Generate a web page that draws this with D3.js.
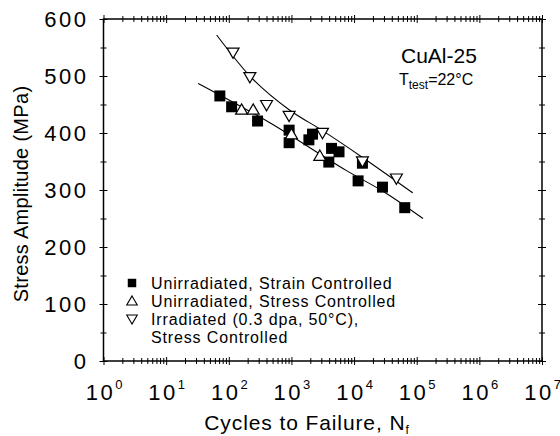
<!DOCTYPE html>
<html>
<head>
<meta charset="utf-8">
<script src="https://cdn.jsdelivr.net/npm/d3@7"></script>
<style>
  body { margin: 0; background: #fff; }
  text { font-family: "Liberation Sans", Arial, sans-serif; fill: #000; }
</style>
</head>
<body>
<svg width="560" height="436"></svg>
<script>
// Data
const strainN = [72, 111, 288, 919, 919, 1900, 2170, 3950, 4370, 5750, 11600, 13600, 28400, 64400];
const strainS = [465, 446, 421, 405, 383, 388, 398, 349, 373, 367, 316, 347, 305, 269];

const stressN = [160, 245, 1000, 2840];
const stressS = [439, 439, 396, 358];

const irradN = [117, 217, 401, 919, 3130, 13600, 47400];
const irradS = [543, 500, 451, 432, 402, 352, 322];

// fitted curves
const fitUnirrN = [32.5, 452, 7570, 32900, 126000];
const fitUnirrS = [487, 418, 334, 294, 250];
const fitIrrN = [64, 217, 942, 3050, 13300, 86300];
const fitIrrS = [572, 500, 440, 405, 358, 295];

const decades = [1, 10, 100, 1000, 1e4, 1e5, 1e6, 1e7];
const yMajor = [0, 100, 200, 300, 400, 500, 600];

const legendLabels = [
  ["Unirradiated, Strain Controlled"],
  ["Unirradiated, Stress Controlled"],
  ["Irradiated (0.3 dpa, 50°C),", "Stress Controlled"]
];

const width = 560, height = 436;
const svg = d3.select("svg");
svg.append("rect").attr("width", width).attr("height", height).attr("fill", "#fff");

const x = d3.scaleLog().domain([1, 1e7]).range([103.5, 542]);
const y = d3.scaleLinear().domain([0, 600]).range([361, 19]);

// minor ticks for the log axis: 2..9 in every decade
let xMinor = [];
decades.slice(0, -1).forEach(d => {
  for (let k = 2; k <= 9; k++) xMinor.push(d * k);
});
const yMinor = d3.range(50, 600, 100);

// helper to draw ticks on both sides of an axis line
function ticksBoth(axisFn, scale, values, size, tx, ty) {
  [size, -size].forEach(s => {
    const g = svg.append("g").attr("transform", `translate(${tx},${ty})`)
      .call(axisFn(scale).tickValues(values).tickSize(s).tickFormat(""));
    g.select(".domain").remove();
    g.selectAll("line").attr("stroke", "#000").attr("stroke-width", 1);
  });
}

ticksBoth(d3.axisBottom, x, decades, 4, 0, 361);
ticksBoth(d3.axisBottom, x, xMinor, 3, 0, 361);
ticksBoth(d3.axisTop, x, decades, 4, 0, 19);
ticksBoth(d3.axisTop, x, xMinor, 3, 0, 19);
ticksBoth(d3.axisLeft, y, yMajor, 4, 103.5, 0);
ticksBoth(d3.axisLeft, y, yMinor, 3, 103.5, 0);
ticksBoth(d3.axisRight, y, yMajor, 4, 542, 0);
ticksBoth(d3.axisRight, y, yMinor, 3, 542, 0);

// frame
svg.append("rect")
  .attr("x", 103.5).attr("y", 19)
  .attr("width", 542 - 103.5).attr("height", 361 - 19)
  .attr("fill", "none").attr("stroke", "#000").attr("stroke-width", 1.5);

// y tick labels
const yLab = svg.append("g").attr("transform", "translate(103.5,0)")
  .call(d3.axisLeft(y).tickValues(yMajor).tickSize(0).tickPadding(15));
yLab.select(".domain").remove();
yLab.selectAll("text")
  .style("font-family", "'Liberation Sans', Arial, sans-serif")
  .attr("font-size", 22).attr("letter-spacing", 2.5).attr("fill", "#000");

// x tick labels as 10^n
const xLab = svg.append("g").attr("transform", "translate(0,361)")
  .call(d3.axisBottom(x).tickValues(decades).tickSize(0).tickPadding(0));
xLab.select(".domain").remove();
xLab.selectAll("text")
  .attr("y", 39).attr("dy", null)
  .style("font-family", "'Liberation Sans', Arial, sans-serif")
  .attr("font-size", 22).attr("fill", "#000")
  .each(function(d) {
    const t = d3.select(this).text("");
    t.append("tspan").attr("letter-spacing", 2.5).text("10");
    t.append("tspan").attr("dy", -11).attr("font-size", 13).text(Math.round(Math.log10(d)));
  });

// axis titles
svg.append("text")
  .attr("transform", "translate(28,194) rotate(-90)")
  .attr("text-anchor", "middle").attr("font-size", 20).attr("letter-spacing", 0.3)
  .text("Stress Amplitude (MPa)");

const xt = svg.append("text")
  .attr("x", 307).attr("y", 430)
  .attr("text-anchor", "middle").attr("font-size", 21).attr("letter-spacing", 0.9);
xt.append("tspan").text("Cycles to Failure, N");
xt.append("tspan").attr("font-size", 12).attr("dy", 4).text("f");

// fit curves
const line = d3.line().x(d => x(d[0])).y(d => y(d[1])).curve(d3.curveMonotoneX);
[[fitUnirrN, fitUnirrS], [fitIrrN, fitIrrS]].forEach(([ns, ss]) => {
  svg.append("path")
    .datum(ns.map((n, i) => [n, ss[i]]))
    .attr("d", line)
    .attr("fill", "none").attr("stroke", "#000").attr("stroke-width", 1.1);
});

// markers
const square = d3.symbol().type(d3.symbolSquare).size(121);
const tri = d3.symbol().type(d3.symbolTriangle).size(62);

svg.append("g").selectAll("path")
  .data(strainN.map((n, i) => [n, strainS[i]]))
  .join("path")
  .attr("d", square)
  .attr("transform", d => `translate(${x(d[0])},${y(d[1])})`)
  .attr("fill", "#000");

svg.append("g").selectAll("path")
  .data(stressN.map((n, i) => [n, stressS[i]]))
  .join("path")
  .attr("d", tri)
  .attr("transform", d => `translate(${x(d[0])},${y(d[1])})`)
  .attr("fill", "#fff").attr("stroke", "#000").attr("stroke-width", 1.2);

svg.append("g").selectAll("path")
  .data(irradN.map((n, i) => [n, irradS[i]]))
  .join("path")
  .attr("d", tri)
  .attr("transform", d => `translate(${x(d[0])},${y(d[1])}) rotate(180)`)
  .attr("fill", "#fff").attr("stroke", "#000").attr("stroke-width", 1.2);

// legend
const legY = [283, 301, 319];
const lg = svg.append("g");
lg.append("path").attr("d", d3.symbol().type(d3.symbolSquare).size(72))
  .attr("transform", `translate(132,${legY[0]})`).attr("fill", "#000");
lg.append("path").attr("d", d3.symbol().type(d3.symbolTriangle).size(48))
  .attr("transform", `translate(132,${legY[1] + 1})`)
  .attr("fill", "#fff").attr("stroke", "#000").attr("stroke-width", 1.1);
lg.append("path").attr("d", d3.symbol().type(d3.symbolTriangle).size(48))
  .attr("transform", `translate(132,${legY[2] - 1}) rotate(180)`)
  .attr("fill", "#fff").attr("stroke", "#000").attr("stroke-width", 1.1);
legendLabels.forEach((lines, i) => {
  lines.forEach((s, j) => {
    lg.append("text")
      .attr("x", 151).attr("y", legY[i] + 18 * j)
      .attr("dy", "0.36em").attr("font-size", 16).attr("letter-spacing", 0.85)
      .text(s);
  });
});

// annotations
svg.append("text").attr("x", 401).attr("y", 63).attr("font-size", 21).text("CuAl-25");
const tt = svg.append("text").attr("x", 399).attr("y", 85).attr("font-size", 16);
tt.append("tspan").text("T");
tt.append("tspan").attr("font-size", 12).attr("dy", 4).text("test");
tt.append("tspan").attr("dy", -4).text("=22°C");
</script>
</body>
</html>
